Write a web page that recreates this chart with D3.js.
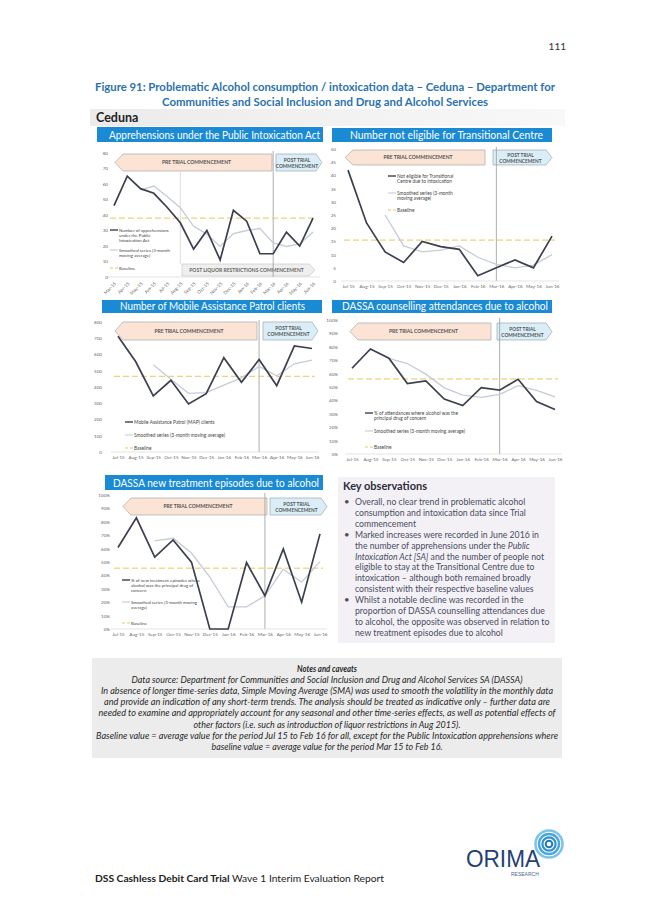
<!DOCTYPE html>
<html><head><meta charset="utf-8">
<script src="https://cdn.jsdelivr.net/npm/d3@7"></script>
<style>body{margin:0;background:#fff}svg{display:block}text{font-family:Lato,"Open Sans",sans-serif}</style>
</head><body><div id="chart"></div>
<script>
// ---------- DATA ----------
const months16 = ["Mar-15","Apr-15","May-15","Jun-15","Jul-15","Aug-15","Sep-15","Oct-15","Nov-15","Dec-15","Jan-16","Feb-16","Mar-16","Apr-16","May-16","Jun-16"];
const months12 = ["Jul-15","Aug-15","Sep-15","Oct-15","Nov-15","Dec-15","Jan-16","Feb-16","Mar-16","Apr-16","May-16","Jun-16"];

const apprehensions         = [46,65,57,54,45,35,18,30,11,43,36,15,15,29,20,38];
const apprehensionsSmoothed = [null,null,56,58.7,52,44.7,32.7,27.7,19.7,28,30,31.3,22,19.7,21.3,29];
const apprehensionsBaseline = 38;

const notEligible         = [42,22,11,7,15,13,12,2,5,8,5,17];
const notEligibleSmoothed = [null,null,25,13.3,11,11.7,13.3,9,6.3,5,6,10];
const notEligibleBaseline = 15.5;

const mapClients         = [712,557,345,441,296,359,580,429,569,408,653,637];
const mapClientsSmoothed = [null,null,537,447,361,365,412,456,526,469,543,566];
const mapClientsBaseline = 466;

const counselling         = [64,78.4,71.5,52.6,54.6,41,36.2,49.6,47.6,55.8,39.2,33.2];
const counsellingSmoothed = [null,null,71.3,67.5,59.6,49.4,44,42.3,44.5,51,47.5,42.7];
const counsellingBaseline = 56;

const treatment         = [60.8,83,53.6,66.5,49.9,0,0,49.6,24.8,59.8,20,71];
const treatmentSmoothed = [null,null,65.8,67.7,56.7,38.8,16.6,16.5,24.8,44.7,34.9,50.3];
const treatmentBaseline = 45.4;

const ticks80  = [0,10,20,30,40,50,60,70,80];
const ticks50  = [0,5,10,15,20,25,30,35,40,45,50];
const ticks800 = [0,100,200,300,400,500,600,700,800];
const ticksPct = [0,10,20,30,40,50,60,70,80,90,100];

// ---------- STYLE ----------
const C = {bar:"#1a8ad4", dark:"#3b3f4e", smooth:"#c6cbd7", base:"#e3c95c", axisTxt:"#666", legend:"#444"};

const svg = d3.select("#chart").append("svg").attr("width",653).attr("height",923);
svg.append("rect").attr("width",653).attr("height",923).attr("fill","#fff");

// Page number
svg.append("text").attr("x",566).attr("y",50).attr("text-anchor","end").attr("font-size",10).attr("fill","#333").text("111");

// Figure title
const titleLines = ["Figure 91: Problematic Alcohol consumption / intoxication data \u2013 Ceduna \u2013 Department for",
                    "Communities and Social Inclusion and Drug and Alcohol Services"];
const titleW = [460, 326];
titleLines.forEach((t,i)=>{
  svg.append("text").attr("x",325).attr("y",91+i*15).attr("text-anchor","middle")
    .attr("font-size",11.5).attr("font-weight","bold").attr("fill","#2b72ae")
    .attr("textLength",titleW[i]).attr("lengthAdjust","spacingAndGlyphs").text(t);
});

// Ceduna band
const band = svg.append("defs").append("linearGradient").attr("id","bandG");
band.append("stop").attr("offset","0").attr("stop-color","#ebebeb");
band.append("stop").attr("offset","1").attr("stop-color","#f8f8f8");
svg.append("rect").attr("x",90).attr("y",109).attr("width",475).attr("height",17).attr("fill","url(#bandG)");
svg.append("text").attr("x",96).attr("y",122).attr("font-size",12.5).attr("font-weight","bold").attr("fill","#222").text("Ceduna");

function arrowLeft(g,x0,x1,y0,y1,fill,stroke){
  const ym=(y0+y1)/2;
  g.append("path").attr("d",`M${x0},${ym}L${x0+8},${y0}L${x1},${y0}L${x1},${y1}L${x0+8},${y1}Z`)
   .attr("fill",fill).attr("stroke",stroke).attr("stroke-width",0.7);
}
function arrowRight(g,x0,x1,y0,y1,fill,stroke){
  const ym=(y0+y1)/2;
  g.append("path").attr("d",`M${x0},${y0}L${x1-6},${y0}L${x1},${ym}L${x1-6},${y1}L${x0},${y1}Z`)
   .attr("fill",fill).attr("stroke",stroke).attr("stroke-width",0.7);
}

function panel(p){
  const g = svg.append("g");
  // title bar
  g.append("rect").attr("x",p.bar[0]).attr("y",p.bar[1]).attr("width",p.bar[2]-p.bar[0]).attr("height",p.bar[3]-p.bar[1]).attr("fill",C.bar);
  g.append("text").attr("x",(p.titleX[0]+p.titleX[1])/2).attr("y",p.bar[3]-3.5).attr("text-anchor","middle")
   .attr("font-size",10.5).attr("fill","#fff").attr("textLength",p.titleX[1]-p.titleX[0]).attr("lengthAdjust","spacingAndGlyphs").text(p.title);

  const x = d3.scalePoint().domain(p.cats).range([p.px0,p.px1]);
  const y = d3.scaleLinear().domain([0,p.ymax]).range([p.py0,p.py1]);

  // arrow boxes
  arrowLeft(g,p.pre[0],p.pre[1],p.pre[2],p.pre[3],"#fbe4d5","#a9a9a9");
  g.append("text").attr("x",(p.pre[0]+p.pre[1])/2+3).attr("y",(p.pre[2]+p.pre[3])/2+1.8).attr("text-anchor","middle")
   .attr("font-size",5).attr("font-weight","bold").attr("fill","#555").text("PRE TRIAL COMMENCEMENT");
  arrowRight(g,p.post[0],p.post[1],p.post[2],p.post[3],"#dbeef8","#9aaab5");
  const pm=(p.post[0]+p.post[1])/2-2, pym=(p.post[2]+p.post[3])/2;
  g.append("text").attr("x",pm).attr("y",pym-1).attr("text-anchor","middle").attr("font-size",4.8).attr("font-weight","bold").attr("fill","#555").text("POST TRIAL");
  g.append("text").attr("x",pm).attr("y",pym+5).attr("text-anchor","middle").attr("font-size",4.8).attr("font-weight","bold").attr("fill","#555").text("COMMENCEMENT");

  if(p.liquor){
    arrowRight(g,p.liquor[0],p.liquor[1],p.liquor[2],p.liquor[3],"#efefef","#c8c8c8");
    g.append("text").attr("x",(p.liquor[0]+p.liquor[1])/2-2).attr("y",(p.liquor[2]+p.liquor[3])/2+1.8).attr("text-anchor","middle")
     .attr("font-size",5).attr("font-weight","bold").attr("fill","#666").text("POST LIQUOR RESTRICTIONS COMMENCEMENT");
    g.append("line").attr("x1",x(p.liquorCat)).attr("x2",x(p.liquorCat)).attr("y1",p.liquorTop).attr("y2",p.liquor[2])
     .attr("stroke","#cfcfcf").attr("stroke-width",0.7);
  }

  // divider
  g.append("line").attr("x1",x(p.divider)).attr("x2",x(p.divider)).attr("y1",p.py1-2).attr("y2",p.py0)
   .attr("stroke","#9a9a9a").attr("stroke-width",0.8);

  // x axis baseline
  g.append("line").attr("x1",p.px0-7).attr("x2",p.px1+7).attr("y1",p.py0).attr("y2",p.py0).attr("stroke","#d9d9d9").attr("stroke-width",0.7);

  // y axis
  const ya = g.append("g").attr("transform",`translate(${p.yAxisX},0)`)
    .call(d3.axisLeft(y).tickValues(p.yTicks).tickSize(0).tickPadding(1).tickFormat(p.yFmt||(d=>d)));
  ya.select(".domain").remove();
  ya.selectAll("text").attr("font-size",4.6).attr("fill",C.axisTxt).style("font-family","Lato, sans-serif");

  // x axis
  const xa = g.append("g").attr("transform",`translate(0,${p.py0})`).call(d3.axisBottom(x).tickSize(0).tickPadding(p.xPad));
  xa.select(".domain").remove();
  xa.selectAll("text").attr("font-size",4.6).attr("fill",C.axisTxt).style("font-family","Lato, sans-serif");
  if(p.rotate){
    xa.selectAll("text").attr("text-anchor","end").attr("y",0).attr("dy","0").attr("transform","translate(2,7) rotate(-45)");
  }

  // baseline
  g.append("line").attr("x1",p.px0-4).attr("x2",p.px1+3).attr("y1",y(p.baseline)).attr("y2",y(p.baseline))
   .attr("stroke",C.base).attr("stroke-width",1).attr("stroke-dasharray","6,3");

  const line = d3.line().defined(d=>d[1]!=null).x(d=>x(d[0])).y(d=>y(d[1]));
  g.append("path").attr("d",line(p.cats.map((c,i)=>[c,p.smooth[i]]))).attr("fill","none").attr("stroke",C.smooth).attr("stroke-width",1.3);
  g.append("path").attr("d",line(p.cats.map((c,i)=>[c,p.values[i]]))).attr("fill","none").attr("stroke",C.dark).attr("stroke-width",1.7);

  // legend
  const L = p.legend;
  L.items.forEach((it,k)=>{
    const yy = L.y[k];
    const st = [C.dark,C.smooth,C.base][k];
    g.append("line").attr("x1",L.x).attr("x2",L.x+8).attr("y1",yy).attr("y2",yy).attr("stroke",st)
      .attr("stroke-width",k==0?1.4:1.1).attr("stroke-dasharray",k==2?"3,2":null);
    it.forEach((t,j)=>{
      g.append("text").attr("x",L.x+9).attr("y",yy+1.6+j*(L.lh||5.6)).attr("font-size",L.fs||4.6).attr("fill",C.legend).text(t);
    });
  });
}

panel({title:"Apprehensions under the Public Intoxication Act", bar:[97,127,323,142], titleX:[109,320],
  cats:months16, values:apprehensions, smooth:apprehensionsSmoothed, baseline:apprehensionsBaseline,
  ymax:80, yTicks:ticks80, px0:114, px1:313, py0:277, py1:153, yAxisX:109, xPad:3, rotate:true,
  pre:[115,272,154,171], post:[276,322,154,171], divider:"Mar-16",
  liquor:[182,315,264,276], liquorCat:"Aug-15", liquorTop:172,
  legend:{x:110, items:[["Number of apprehensions","under the Public","Intoxication Act"],["Smoothed series (3-month","moving average)"],["Baseline"]], y:[230,250,268], lh:5.2, fs:4.4}
});

panel({title:"Number not eligible for Transitional Centre", bar:[332,128,552,142], titleX:[350,543],
  cats:months12, values:notEligible, smooth:notEligibleSmoothed, baseline:notEligibleBaseline,
  ymax:50, yTicks:ticks50, px0:348, px1:552, py0:281, py1:149, yAxisX:337, xPad:4,
  pre:[345,485,150,165], post:[493,552,150,165], divider:"Mar-16",
  legend:{x:388, items:[["Not eligible for Transitional","Centre due to intoxication"],["Smoothed series (3-month","moving average)"],["Baseline"]], y:[176,193,210], lh:5.8, fs:4.8}
});

panel({title:"Number of Mobile Assistance Patrol clients", bar:[102,300,322,313], titleX:[120,305],
  cats:months12, values:mapClients, smooth:mapClientsSmoothed, baseline:mapClientsBaseline,
  ymax:800, yTicks:ticks800, px0:118, px1:312, py0:452, py1:322, yAxisX:103, xPad:4,
  pre:[115,257,322,340], post:[263,318,322,340], divider:"Mar-16",
  legend:{x:125, items:[["Mobile Assistance Patrol (MAP) clients"],["Smoothed series (3-month moving average)"],["Baseline"]], y:[422,435,448], fs:4.8}
});

panel({title:"DASSA counselling attendances due to alcohol", bar:[332,300,552,313], titleX:[342,548],
  cats:months12, values:counselling, smooth:counsellingSmoothed, baseline:counsellingBaseline,
  ymax:100, yTicks:ticksPct, yFmt:d=>d+"%", px0:352, px1:555, py0:454, py1:320, yAxisX:339, xPad:4,
  pre:[350,491,323,340], post:[497,552,323,340], divider:"Mar-16",
  legend:{x:365, items:[["% of attendances where alcohol was the","principal drug of concern"],["Smoothed series (3-month moving average)"],["Baseline"]], y:[413,431,447], lh:5.8, fs:4.8}
});

panel({title:"DASSA new treatment episodes due to alcohol", bar:[105,475,323,490], titleX:[113,319],
  cats:months12, values:treatment, smooth:treatmentSmoothed, baseline:treatmentBaseline,
  ymax:100, yTicks:ticksPct, yFmt:d=>d+"%", px0:118, px1:320, py0:629, py1:495, yAxisX:111, xPad:4,
  pre:[123,267,498,515], post:[270,327,498,515], divider:"Mar-16",
  legend:{x:122, items:[["% of new treatment episodes where","alcohol was the principal drug of","concern"],["Smoothed series (3-month moving","average)"],["Baseline"]], y:[580,602,623], lh:5.2, fs:4.4}
});

// Key observations
svg.append("rect").attr("x",338).attr("y",477).attr("width",217).attr("height",166).attr("fill","#f3f1f5");
svg.append("text").attr("x",343).attr("y",490).attr("font-size",11).attr("font-weight","bold").attr("fill","#2e2e3a").text("Key observations");
const obs = [
  [[["Overall, no clear trend in problematic alcohol"]],[["consumption and intoxication data since Trial"]],[["commencement"]]],
  [[["Marked increases were recorded in June 2016 in"]],[["the number of apprehensions under the "],["Public",1]],[["Intoxication Act [SA]",1],[" and the number of people not"]],
   [["eligible to stay at the Transitional Centre due to"]],[["intoxication \u2013 although both remained broadly"]],[["consistent with their respective baseline values"]]],
  [[["Whilst a notable decline was recorded in the"]],[["proportion of DASSA counselling attendances due"]],[["to alcohol, the opposite was observed in relation to"]],[["new treatment episodes due to alcohol"]]]
];
let ln=0;
obs.forEach(b=>{
  b.forEach((parts,j)=>{
    const yy = 505 + ln*10.9;
    if(j==0) svg.append("text").attr("x",344).attr("y",yy).attr("font-size",9.5).attr("fill","#4a4d63").text("\u2022");
    const t = svg.append("text").attr("x",355).attr("y",yy).attr("font-size",8.7).attr("fill","#4a4d63");
    parts.forEach(pp=>t.append("tspan").attr("font-style",pp[1]?"italic":null).text(pp[0]));
    ln++;
  });
});

// Notes and caveats
svg.append("rect").attr("x",92).attr("y",658).attr("width",470).attr("height",100).attr("fill","#ececec");
const notes = [
  ["Notes and caveats",0,60],
  ["Data source: Department for Communities and Social Inclusion and Drug and Alcohol Services SA (DASSA)",0,391],
  ["In absence of longer time-series data, Simple Moving Average (SMA) was used to smooth the volatility in the monthly data",0,452],
  ["and provide an indication of any short-term trends. The analysis should be treated as indicative only \u2013 further data are",0,446],
  ["needed to examine and appropriately account for any seasonal and other time-series effects, as well as potential effects of",0,457],
  ["other factors (i.e. such as introduction of liquor restrictions in Aug 2015).",0,267],
  ["Baseline value = average value for the period Jul 15 to Feb 16 for all, except for the Public Intoxication apprehensions where",0,462],
  ["baseline value = average value for the period Mar 15 to Feb 16.",0,231]
];
notes.forEach((n,i)=>{
  svg.append("text").attr("x",327).attr("y",672+i*11.1).attr("text-anchor","middle").attr("font-size",8.6)
   .attr("font-style","italic").attr("font-weight",i==0?"bold":null).attr("fill","#2a2a2a")
   .attr("textLength",n[2]).attr("lengthAdjust","spacingAndGlyphs").text(n[0]);
});

// Footer
const ft = svg.append("text").attr("x",95).attr("y",882).attr("font-size",9.6).attr("fill","#222")
  .attr("textLength",289).attr("lengthAdjust","spacingAndGlyphs");
ft.append("tspan").attr("font-weight","bold").text("DSS Cashless Debit Card Trial");
ft.append("tspan").text(" Wave 1 Interim Evaluation Report");

// ORIMA logo
svg.append("text").attr("x",466).attr("y",867).attr("font-size",23).attr("fill","#243f73").style("font-family","'Liberation Sans',sans-serif")
  .attr("textLength",74).attr("lengthAdjust","spacingAndGlyphs").text("ORIMA");
svg.append("text").attr("x",511).attr("y",876).attr("font-size",5).attr("fill","#4a6a95").style("font-family","'Liberation Sans',sans-serif").text("RESEARCH");
[[13.5,2.6,"#7fc3ea"],[10,2.4,"#4aa6dd"],[6.6,2.2,"#2f8fcf"],[3.3,2,"#1f78ba"]].forEach(r=>{
  svg.append("circle").attr("cx",549).attr("cy",844).attr("r",r[0]).attr("fill","none").attr("stroke",r[2]).attr("stroke-width",r[1]);
});
</script></body></html>
